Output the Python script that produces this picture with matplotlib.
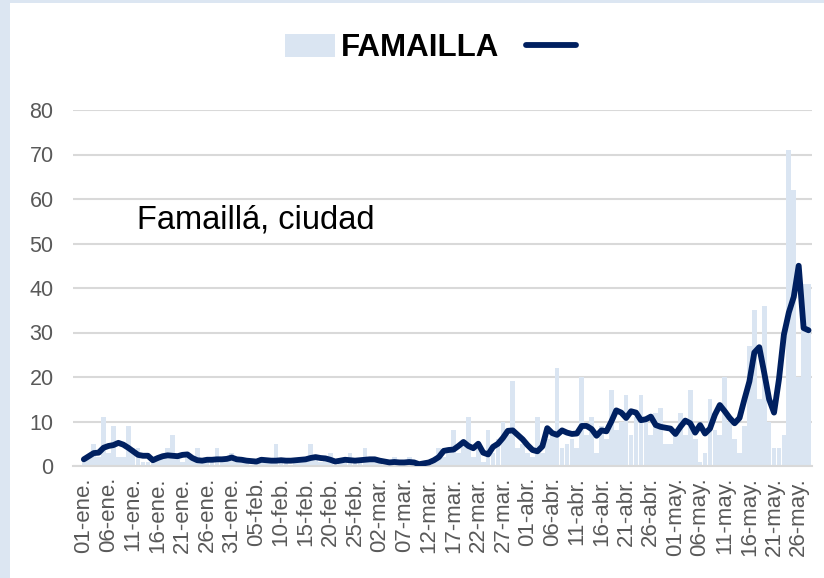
import matplotlib.pyplot as plt
from matplotlib.patches import Rectangle

# casos diarios (barras) y promedio (linea), 01-ene a 28-may
casos = [1, 2, 5, 2, 11, 3, 9, 2, 2, 9, 4, 4, 1, 1, 1, 2, 2, 4, 7, 3, 1, 2, 2, 4, 1, 1, 1, 4, 1, 2, 3,
         1, 2, 1, 0, 1, 2, 1, 1, 5, 1, 1, 0, 1, 2, 1, 5, 2, 1, 2, 3, 0, 1, 2, 3, 1, 1, 4, 2,
         1, 1, 0, 1, 2, 0, 1, 2, 0, 0, 1, 1, 1, 4, 2, 4, 8, 3, 5, 11, 2, 4, 1, 8, 3, 6, 10, 7, 19, 4, 5,
         3, 2, 11, 3, 6, 7, 22, 4, 5, 6, 4, 20, 7, 11, 3, 9, 6, 17, 8, 10, 16, 7, 11, 16, 11, 7, 12, 13, 5, 5,
         7, 12, 7, 17, 6, 1, 3, 15, 8, 7, 20, 10, 6, 3, 9, 27, 35, 15, 36, 10, 4, 4, 7, 71, 62, 20, 41, 41]

promedio = [1.5, 2.2, 2.9, 3.0, 4.1, 4.5, 4.7, 5.2, 4.8, 4.1, 3.3, 2.5, 2.3, 2.3, 1.3, 1.8, 2.2, 2.4, 2.3, 2.2,
            2.5, 2.6, 1.8, 1.3, 1.2, 1.4, 1.4, 1.5, 1.5, 1.6, 1.9,
            1.5, 1.4, 1.2, 1.1, 1.0, 1.4, 1.3, 1.2, 1.2, 1.3, 1.2, 1.2, 1.3, 1.4, 1.5, 1.8, 2.0, 1.8, 1.7, 1.4,
            1.0, 1.2, 1.4, 1.3, 1.2, 1.3, 1.4, 1.5,
            1.5, 1.2, 1.0, 0.8, 0.9, 0.8, 0.8, 0.9, 0.8, 0.4, 0.6, 0.8, 1.3, 2.0, 3.4, 3.6, 3.7, 4.5, 5.4, 4.5,
            4.0, 5.0, 3.0, 2.6, 4.3, 5.0, 6.3, 7.9, 8.0, 7.0, 6.0,
            4.7, 3.6, 3.3, 4.4, 8.5, 7.4, 7.0, 8.0, 7.5, 7.2, 7.3, 9.0, 9.0, 8.3, 6.8, 8.0, 7.8, 10.0, 12.5, 12.0,
            10.8, 12.3, 12.0, 10.3, 10.5, 11.1, 9.2, 8.8, 8.6, 8.4,
            7.2, 8.8, 10.2, 9.6, 7.5, 9.2, 7.3, 8.4, 11.5, 13.7, 12.3, 10.8, 9.6, 10.8, 15.0, 19.0, 25.5, 26.7,
            21.0, 15.0, 12.0, 19.5, 29.5, 34.5, 38.0, 45.0, 31.0, 30.5]

etiquetas = ['01-ene.', '06-ene.', '11-ene.', '16-ene.', '21-ene.', '26-ene.', '31-ene.',
             '05-feb.', '10-feb.', '15-feb.', '20-feb.', '25-feb.',
             '02-mar.', '07-mar.', '12-mar.', '17-mar.', '22-mar.', '27-mar.',
             '01-abr.', '06-abr.', '11-abr.', '16-abr.', '21-abr.', '26-abr.',
             '01-may.', '06-may.', '11-may.', '16-may.', '21-may.', '26-may.']

dias = list(range(len(casos)))

plt.rcParams['font.family'] = ['Liberation Sans', 'DejaVu Sans']

fig = plt.figure(figsize=(8.24, 5.78), dpi=100)
fig.patch.set_facecolor('#dce6f2')
fig.patches.append(Rectangle((10 / 824, 0), 1, 1 - 3 / 578, transform=fig.transFigure,
                             facecolor='white', edgecolor='none', zorder=-10))

ax = fig.add_axes([73 / 824, 1 - 466 / 578, 739 / 824, 356 / 578])
ax.set_facecolor('none')

barras = ax.bar(dias, casos, width=0.95, color='#dae5f2', zorder=2)
linea, = ax.plot(dias, promedio, color='#002060', lw=4.2, solid_joinstyle='round',
                 solid_capstyle='round', zorder=3)

ax.set_xlim(-2.2, 147.7)
ax.set_ylim(0, 80)
ax.set_yticks(range(0, 81, 10))
ax.set_xticks(range(0, len(etiquetas) * 5, 5))
ax.set_xticklabels(etiquetas, rotation=90)
ax.tick_params(axis='both', length=0, labelcolor='#595959')
ax.tick_params(axis='x', pad=8, labelsize=16)
ax.tick_params(axis='y', pad=14, labelsize=15.5)
ax.yaxis.grid(True, color='#d9d9d9', lw=1.5, zorder=0)
ax.set_axisbelow(True)
for s in ['top', 'right', 'left']:
    ax.spines[s].set_visible(False)
ax.spines['bottom'].set_color('#d9d9d9')
ax.spines['bottom'].set_linewidth(1.5)

fig.text(137 / 824, 1 - 220 / 578, 'Famaillá, ciudad', fontsize=23.5, va='center', ha='left')

leg = fig.legend([barras, linea], ['FAMAILLA', ' '], loc='center',
                 bbox_to_anchor=(0.531, 1 - 48 / 578), ncol=2, frameon=False,
                 prop={'size': 22.5, 'weight': 'bold'}, handlelength=1.6, handleheight=0.75,
                 columnspacing=0.85, handletextpad=0.2)

fig.savefig('out.png', dpi=100)
